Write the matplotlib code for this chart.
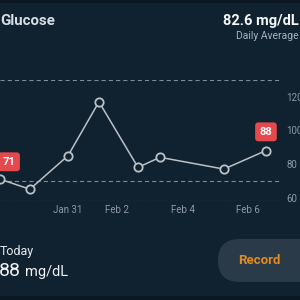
import matplotlib
matplotlib.use('Agg')
import matplotlib.pyplot as plt
from matplotlib.patches import FancyBboxPatch, Rectangle
import pandas as pd

plt.rcParams['font.family'] = ['Roboto', 'DejaVu Sans']
plt.rcParams['lines.scale_dashes'] = False

# data
times = pd.to_datetime(["2025-01-29 09:40", "2025-01-30 07:40", "2025-01-31 11:45",
                        "2025-02-01 10:30", "2025-02-02 15:15", "2025-02-03 07:25",
                        "2025-02-05 06:30", "2025-02-06 13:25"])
glucose = [71, 65, 85, 117, 78, 84, 77, 88]
tick_times = pd.to_datetime(["2025-01-31 11:30", "2025-02-02 00:00",
                             "2025-02-04 00:00", "2025-02-06 00:00"])
tick_labels = ["Jan 31", "Feb 2", "Feb 4", "Feb 6"]
y_ticks = [60, 80, 100, 120]
low_line = 70
y_range = (58, 130)
x_range = pd.to_datetime(["2025-01-29 09:40", "2025-02-06 23:45"])
daily_avg = "82.6 mg/dL"
today_val = "88"

BG = '#10212f'
LINE = '#bcc1c5'
GRID = '#7f8a94'
TXT = '#8e9aa5'
RED = '#e5484d'

W = H = 300
fig = plt.figure(figsize=(3, 3), dpi=100, facecolor=BG)

def fx(px):
    return px / W

def fy(py):
    return 1 - py / H

# darker strips top / bottom
fig.patches.append(Rectangle((0, fy(3)), 1, fy(0) - fy(3), transform=fig.transFigure,
                             facecolor='#0b1823', edgecolor='none'))
fig.patches.append(Rectangle((0, 0), 1, fy(296), transform=fig.transFigure,
                             facecolor='#0b1823', edgecolor='none'))

# header
fig.text(fx(0.5), fy(25), "Glucose", color='#d6dde4', fontsize=10.8, fontweight='bold',
         ha='left', va='baseline')
fig.text(fx(299), fy(25), daily_avg, color='#f4f6f8', fontsize=10.5, fontweight='bold',
         ha='right', va='baseline')
fig.text(fx(299), fy(39), "Daily Average", color='#a9b3bd', fontsize=7.5,
         ha='right', va='baseline')

# chart
ax = fig.add_axes([fx(0), fy(201), fx(280), fy(80) - fy(201)])
ax.set_facecolor('none')
ax.plot(times, glucose, color=LINE, lw=1.1, marker='o', ms=6, mfc=BG, mec=LINE,
        mew=1.3, zorder=3, clip_on=False)
ax.axhline(y_range[1], color=GRID, lw=0.8, ls=(0, (3, 2.2)))
ax.axhline(low_line, color=GRID, lw=0.8, ls=(0, (3, 2.2)))
ax.axhline(y_range[0], color=GRID, lw=0.8, ls=(0, (2, 1.5)))
ax.set_xlim(x_range[0], x_range[1])
ax.set_ylim(*y_range)
for s in ax.spines.values():
    s.set_visible(False)
ax.yaxis.tick_right()
ax.set_yticks(y_ticks)
ax.set_xticks(tick_times)
ax.set_xticklabels(tick_labels)
ax.tick_params(axis='both', length=0, colors=TXT, labelsize=7)
ax.tick_params(axis='y', pad=4.5)
ax.tick_params(axis='x', pad=3)
for lab in ax.get_yticklabels():
    lab.set_ha('left')

# value badges
badges = [(0, (6.5, 12.5)), (len(glucose) - 1, (0, 13.5))]
for i, off in badges:
    ax.annotate(str(glucose[i]), (times[i], glucose[i]), xytext=off,
                textcoords='offset points', ha='center', va='center',
                color='white', fontsize=8, fontweight='bold', zorder=5,
                bbox=dict(boxstyle='round,pad=0.4,rounding_size=0.3',
                          fc=RED, ec='none'), annotation_clip=False)

# today section
fig.text(fx(0), fy(252), "Today", color='#e6eaee', fontsize=9, ha='left', va='center')
fig.text(fx(-1), fy(276), today_val, color='#f0f3f5', fontsize=14, ha='left', va='baseline')
fig.text(fx(25), fy(276), "mg/dL", color='#f0f3f5', fontsize=10.5, ha='left', va='baseline')

# record button
btn = FancyBboxPatch((fx(218), fy(282)), fx(120), fy(239) - fy(282),
                     boxstyle='round,pad=0,rounding_size=%f' % fx(21.5),
                     transform=fig.transFigure, facecolor='#2a3a48', edgecolor='none')
fig.patches.append(btn)
fig.text(fx(259), fy(261), "Record", color='#e28b1f', fontsize=9.5, fontweight='bold',
         ha='center', va='center')

fig.savefig('out.png', dpi=100, facecolor=BG)
